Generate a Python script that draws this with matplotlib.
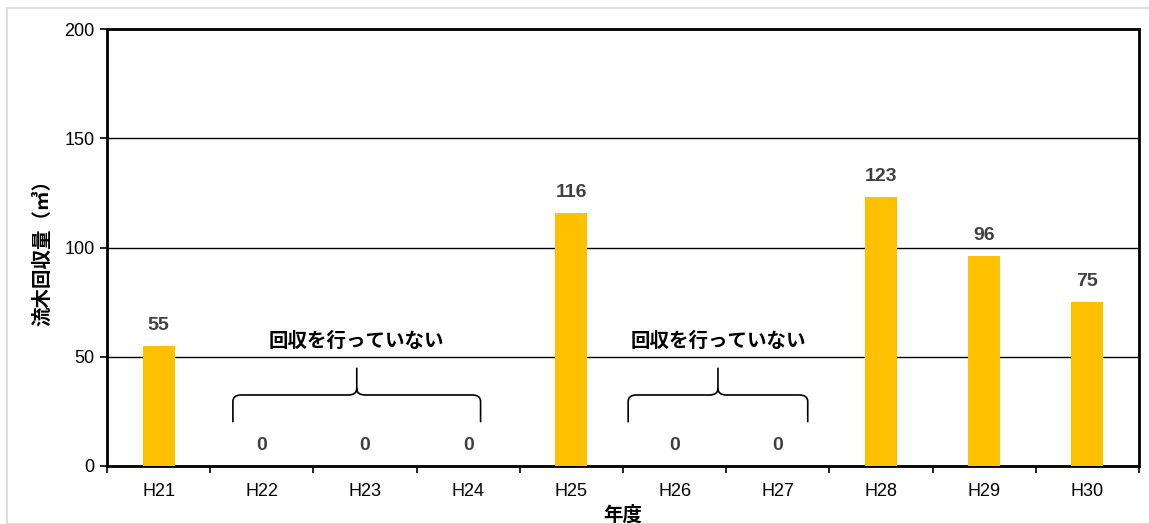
import matplotlib

matplotlib.use("Agg")
import matplotlib.pyplot as plt
from matplotlib.patches import PathPatch, Rectangle
from matplotlib.path import Path

years = ["H21", "H22", "H23", "H24", "H25", "H26", "H27", "H28", "H29", "H30"]
volumes = [55, 0, 0, 0, 116, 0, 0, 123, 96, 75]
# braces over the years with no collection: (left x, right x) in category units
no_collection = [(0.72, 3.12), (4.55, 6.29)]
no_collection_text = "回収を行っていない"

JP = ["Noto Sans CJK JP", "DejaVu Sans"]
NUM = ["Liberation Sans Narrow", "Liberation Sans", "DejaVu Sans"]
BAR_COLOR = "#ffc000"


def brace(ax, x0, x1, y_tip, y_mid, y_end, r=0.08, ry=3.0):
    xm = (x0 + x1) / 2
    verts = [
        (x0, y_end), (x0, y_mid - ry), (x0, y_mid), (x0 + r, y_mid),
        (xm - r, y_mid), (xm, y_mid), (xm, y_mid + ry), (xm, y_tip),
        (xm, y_mid + ry), (xm, y_mid), (xm + r, y_mid),
        (x1 - r, y_mid), (x1, y_mid), (x1, y_mid - ry), (x1, y_end),
    ]
    codes = [
        Path.MOVETO, Path.LINETO, Path.CURVE3, Path.CURVE3,
        Path.LINETO, Path.CURVE3, Path.CURVE3, Path.LINETO,
        Path.MOVETO, Path.CURVE3, Path.CURVE3,
        Path.LINETO, Path.CURVE3, Path.CURVE3, Path.LINETO,
    ]
    ax.add_patch(PathPatch(Path(verts, codes), fill=False, lw=1.2,
                           ec="black", clip_on=False))


fig = plt.figure(figsize=(11.49, 5.24), dpi=100)
fig.patches.append(Rectangle((7 / 1149, 0), 1.0, 1 - 8 / 524,
                             transform=fig.transFigure, fill=False,
                             ec="#d9d9d9", lw=1.2))
ax = fig.add_axes([107 / 1149, 58 / 524, 1032 / 1149, 437 / 524])

x = range(len(years))
bars = ax.bar(x, volumes, width=0.31, color=BAR_COLOR, zorder=3)
for bar, v in zip(bars, volumes):
    ax.text(bar.get_x() + bar.get_width() / 2, v + 5.5, str(v),
            ha="center", va="bottom", fontsize=14, fontweight="bold",
            color="#404040", family=NUM)

for x0, x1 in no_collection:
    brace(ax, x0, x1, 45, 32.5, 20)
    ax.text((x0 + x1) / 2, 57, no_collection_text, ha="center",
            va="center", fontsize=14, fontweight="bold", family=JP)

ax.set_xlim(-0.5, len(years) - 0.5)
ax.set_ylim(0, 200)
ax.set_yticks([0, 50, 100, 150, 200])
ax.set_xticks(list(x))
ax.set_xticklabels(years, family=NUM, fontsize=13)
ax.set_xticks([i + 0.5 for i in range(-1, len(years))], minor=True)
for lbl in ax.get_yticklabels():
    lbl.set_family(NUM)
    lbl.set_fontsize(13)
ax.tick_params(axis="x", which="major", length=0, pad=12)
ax.tick_params(axis="x", which="minor", length=5, width=1.2, direction="out")
ax.tick_params(axis="y", length=5, width=1.2, direction="out", pad=4)
ax.grid(axis="y", color="black", lw=1.0, zorder=0)
for s in ax.spines.values():
    s.set_linewidth(2.0)

ax.set_ylabel("流木回収量（㎥）", family=JP, fontsize=14, fontweight="bold",
              labelpad=9)
ax.set_xlabel("年度", family=JP, fontsize=14, fontweight="bold", labelpad=4)

fig.savefig("out.png", dpi=100)
